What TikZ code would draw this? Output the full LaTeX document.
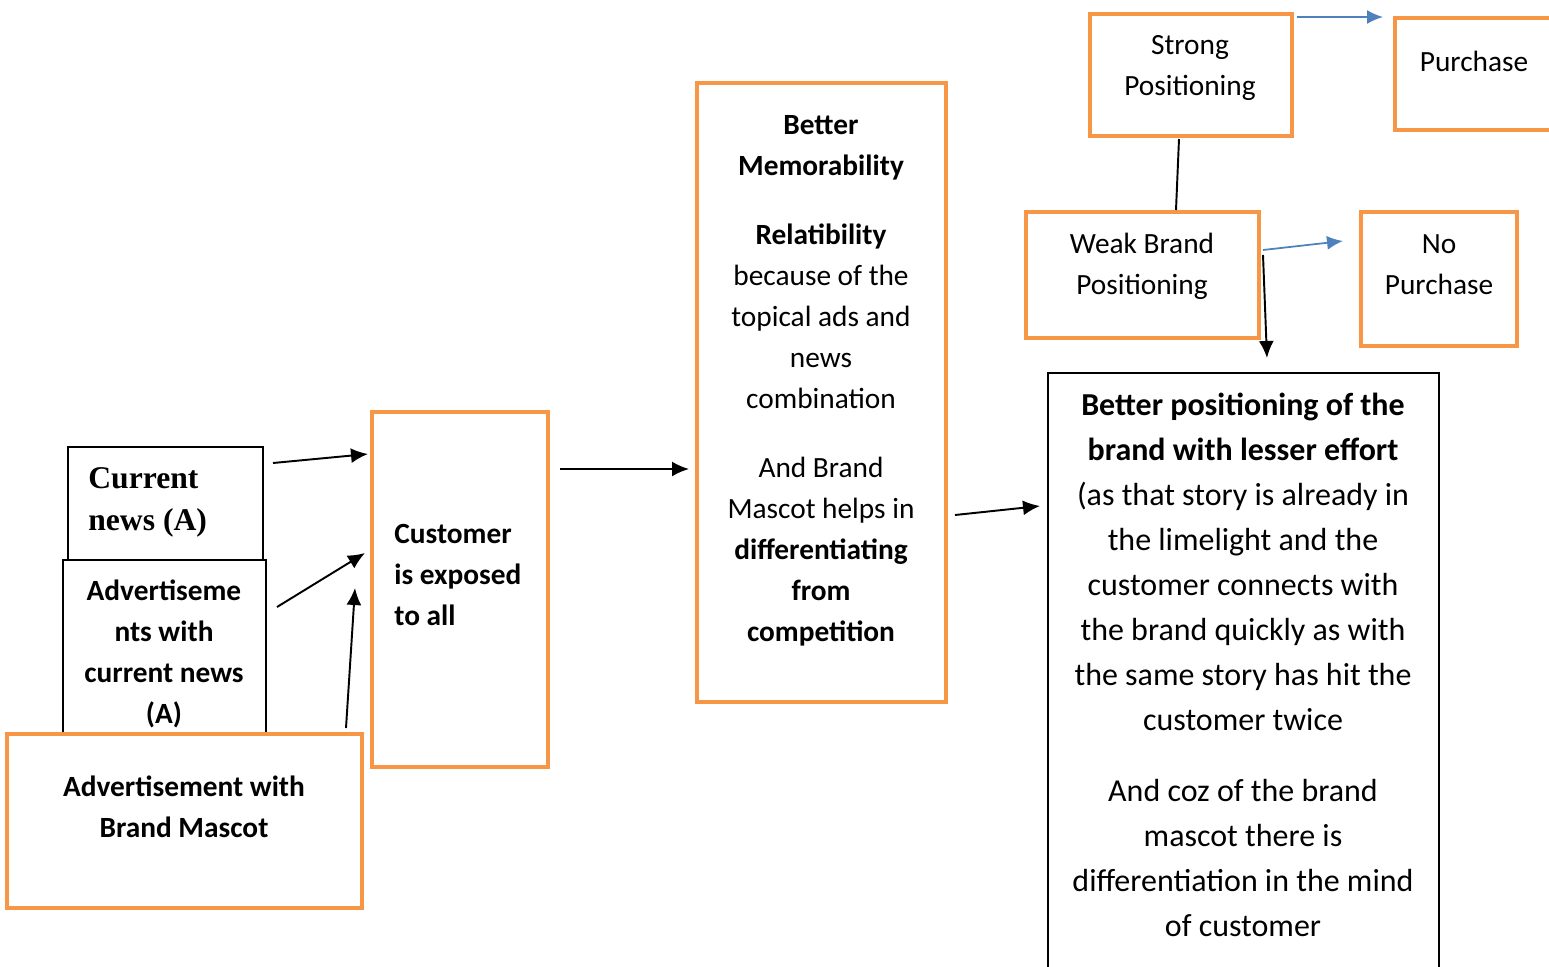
\documentclass[tikz,border=0pt]{standalone}
\usepackage{fontspec}
\setmainfont{Carlito}
\newfontfamily\timesfont{Liberation Serif}
\usetikzlibrary{positioning,fit,arrows.meta}
\definecolor{boxorange}{HTML}{F79646}
\definecolor{arrowblue}{HTML}{4F81BD}

\begin{document}
\begin{tikzpicture}
	[x=0.02cm, y=-0.02cm,
		obox/.style={
		  rectangle,
		  draw=boxorange,
		  line width=2.4pt,
		  fill=white,
		  inner sep=0pt,
		  outer sep=0pt
		},
		kbox/.style={
		  rectangle,
		  draw=black,
		  line width=1pt,
		  fill=white,
		  inner sep=0pt,
		  outer sep=0pt
		},
		txt/.style={
		  align=center,
		  inner sep=0pt,
		  font=\fontsize{16.7}{23.4}\selectfont
		},
		bigtxt/.style={
		  align=center,
		  inner sep=0pt,
		  font=\fontsize{18.2}{25.6}\selectfont
		},
		arr/.style={-{Latex[length=0.34cm,width=0.3cm]}, line width=1.1pt},
		barr/.style={-{Latex[length=0.32cm,width=0.28cm]}, draw=arrowblue, line width=1pt}
	]
	\useasboundingbox (0,0) rectangle (1549,967);

	% inputs on the left
	\node[kbox, fit={(68,447) (263,560)}] (news) {};
	\node[kbox, fit={(63,560) (266,735)}] (advnews) {};
	\node[obox, fit={(7,734) (362,908)}] (mascot) {};
	\node[txt, anchor=west, align=left, font=\timesfont\fontsize{18}{23.9}\selectfont\bfseries] (newstxt) at (88,502) {Current\\news (A)};
	\node[txt, font=\fontsize{16.7}{23.4}\selectfont\bfseries] (advnewstxt) at (164,654) {Advertiseme\\nts with\\current news\\(A)};
	\node[txt, font=\fontsize{16.7}{23.4}\selectfont\bfseries] (mascottxt) at (184,807) {Advertisement with\\Brand Mascot};

	% exposure and memorability
	\node[obox, fit={(372,412) (548,767)}] (cust) {};
	\node[txt, anchor=west, align=left, font=\fontsize{16.7}{23.4}\selectfont\bfseries] (custtxt) at (394,575) {Customer\\is exposed\\to all};
	\node[obox, fit={(697,83) (946,702)}] (memo) {};
	\node[txt] (memotxt) at (821,381) {\textbf{Better}\\\textbf{Memorability}\\[0.55cm]\textbf{Relatibility}\\because of the\\topical ads and\\news\\combination\\[0.55cm]And Brand\\Mascot helps in\\\textbf{differentiating}\\\textbf{from}\\\textbf{competition}};

	% outcome
	\node[kbox, fit={(1048,373) (1439,990)}] (better) {};
	\node[bigtxt] (bettertxt) at (1243,665) {\textbf{Better positioning of the}\\\textbf{brand with lesser effort}\\(as that story is already in\\the limelight and the\\customer connects with\\the brand quickly as with\\the same story has hit the\\customer twice\\[0.52cm]And coz of the brand\\mascot there is\\differentiation in the mind\\of customer};

	% positioning branches
	\node[obox, fit={(1090,14) (1292,136)}] (strong) {};
	\node[txt] (strongtxt) at (1190,68) {Strong\\Positioning};
	\node[obox, fit={(1395,18) (1570,130)}] (purch) {};
	\node[txt] (purchtxt) at (1474,61) {Purchase};
	\node[obox, fit={(1026,212) (1259,338)}] (weak) {};
	\node[txt] (weaktxt) at (1142,266) {Weak Brand\\Positioning};
	\node[obox, fit={(1361,212) (1517,346)}] (nopurch) {};
	\node[txt] (nopurchtxt) at (1439,265) {No\\Purchase};

	\draw[arr] ([shift={(10,16)}]news.north east) -- ([shift={(-4,42)}]cust.north west);
	\draw[arr] ([shift={(11,47)}]advnews.north east) -- ([shift={(-7,141)}]cust.north west);
	\draw[arr] ([shift={(-16,-6)}]mascot.north east) -- ([shift={(-17,176)}]cust.north west);
	\draw[arr] ([shift={(12,57)}]cust.north east) -- ([shift={(-8,386)}]memo.north west);
	\draw[arr] ([shift={(9,432)}]memo.north east) -- ([shift={(-8,133)}]better.north west);
	\draw[line width=1.1pt] ([shift={(-12,3)}]strong.south) -- ([shift={(33.5,-2)}]weak.north);
	\draw[barr] ([shift={(5,3)}]strong.north east) -- ([shift={(-12,-1)}]purch.north west);
	\draw[barr] ([shift={(4,38)}]weak.north east) -- ([shift={(-18,29)}]nopurch.north west);
	\draw[arr] ([shift={(4,43)}]weak.north east) -- ([shift={(219,-15)}]better.north west);
\end{tikzpicture}
\end{document}
